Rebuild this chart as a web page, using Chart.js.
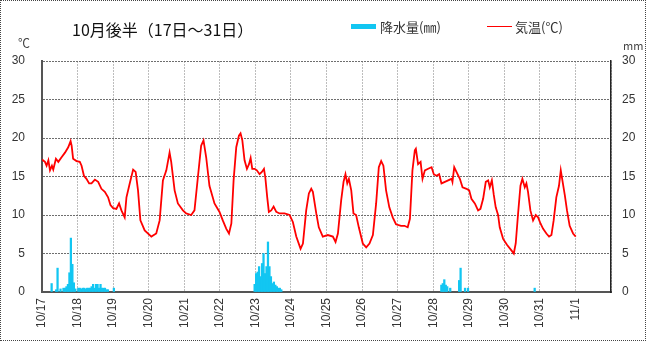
<!DOCTYPE html>
<html lang="ja">
<head>
<meta charset="utf-8">
<script src="https://cdn.jsdelivr.net/npm/chart.js@4.4.1/dist/chart.umd.min.js"></script>
<style>
  body { margin: 0; background: #fff; }
  #wrap { position: relative; width: 646px; height: 341px; font-family: "Noto Sans CJK JP", sans-serif; color: #222; }
  #frame { position: absolute; left: 0; top: 0; width: 644px; height: 339px; border: 1px dotted #444; pointer-events: none; }
  canvas { position: absolute; left: 0; top: 0; }
  .txt { position: absolute; white-space: nowrap; line-height: 1; }
  #title { left: 72px; top: 21px; font-size: 16px; color: #111; }
  .leg { top: 20px; font-size: 13px; color: #333; }
  #legRain { left: 351px; top: 24px; width: 25px; height: 5px; background: #12c6f2; position: absolute; }
  #legTemp { left: 487px; top: 26px; width: 25px; height: 1px; background: #f00; position: absolute; }
  .unit { font-size: 11px; color: #444; }
</style>
</head>
<body>
<div id="wrap">
  <canvas id="weatherChart" width="646" height="341"></canvas>
  <div class="txt" id="title">10月後半（17日～31日）</div>
  <div id="legRain"></div>
  <div class="txt leg" style="left:380px">降水量(㎜)</div>
  <div id="legTemp"></div>
  <div class="txt leg" style="left:515px">気温(℃)</div>
  <div class="txt unit" style="left:18px; top:37px; font-size:12px">℃</div>
  <div class="txt unit" style="left:623px; top:40px">mm</div>
  <div id="frame"></div>
</div>
<script>
// day labels, one per 24h tick
const dateLabels = ['10/17', '10/18', '10/19', '10/20', '10/21', '10/22', '10/23', '10/24',
  '10/25', '10/26', '10/27', '10/28', '10/29', '10/30', '10/31', '11/1'];

// temperature (hours since 10/17 0:00, ℃)
const tempHours = [0, 2, 3.1, 4.3, 5.4, 6.7, 7.6, 9.4, 11, 13.2, 15.5, 17.7, 19.3, 20, 21, 23.3,
  25.5, 26.7, 28.3, 30, 31.8, 33.4, 35.7, 37.9, 40.1, 42.4, 44.6, 46.2, 48, 50.2, 52, 53.6,
  55.8, 57, 59.2, 61.5, 63.2, 64.8, 66.4, 69.3, 73.8, 77.1, 79.4, 81.6, 83.9, 86.1, 87.2, 89.5,
  91.7, 95.1, 97.3, 100.7, 102.9, 105.2, 107.4, 109, 110.8, 113, 116.4, 119.8, 122, 124.4, 126.2,
  127.8, 129.3, 131.1, 132.9, 134, 135.2, 136.7, 138.3, 139.7, 140.8, 141.9, 143.5, 145, 146.8,
  148.4, 149.8, 150.7, 152, 153.1, 154.7, 156.3, 158.1, 160.3, 163.7, 167.1, 169.3, 171.6, 174.5,
  176.1, 178.3, 180.1, 181.7, 182.8, 185.1, 186.8, 189.5, 192.9, 196.3, 198.1, 199.7, 201.9,
  203.5, 204.8, 206, 207.1, 208.7, 210.2, 212, 213.8, 216.5, 218.8, 221, 223.3, 225.5, 227.3,
  228.9, 230.4, 232.2, 234.4, 236.7, 238.9, 242.3, 244.6, 246.8, 248.3, 250, 251.6, 252.3, 253.8,
  255.5, 256.8, 258.4, 260.6, 262.9, 264.4, 266.2, 268, 269.6, 271.9, 274.1, 276.4, 277, 278.2,
  279.7, 282, 283.8, 286.5, 288.3, 289.8, 292.1, 294.3, 295.9, 297.7, 299.5, 301.1, 302.2, 303.6,
  304.9, 306.2, 307.8, 308.9, 311.2, 313.9, 316.8, 318.4, 319.7, 321.3, 322.9, 324.2, 325.8,
  326.9, 328, 329.6, 331.4, 333.2, 334.8, 336.4, 338.2, 340.4, 342.2, 343.8, 345.3, 347.1, 348.9,
  350.1, 351.2, 352.8, 354.3, 356.1, 358.4, 360.2];
const tempValues = [17.2, 16.9, 16.4, 17.1, 15.8, 16.4, 15.9, 17.3, 16.9, 17.5, 18.1, 18.8, 19.6, 19.0, 17.3, 17.0,
  16.9, 16.4, 15.1, 14.7, 14.1, 14.1, 14.6, 14.3, 13.4, 13.0, 12.3, 11.3, 10.9, 10.8, 11.5, 10.6,
  9.7, 12.3, 14.1, 15.9, 15.6, 13.2, 9.3, 8.0, 7.2, 7.6, 9.3, 14.5, 15.8, 18.1, 16.9, 13.2,
  11.5, 10.6, 10.2, 10.0, 10.6, 14.9, 19.0, 19.7, 17.5, 13.8, 11.5, 10.4, 9.3, 8.2, 7.6,
  8.9, 14.5, 18.8, 20.3, 20.6, 19.7, 17.1, 16.0, 16.6, 17.4, 16.0, 16.0, 15.8, 15.3,
  15.6, 16.0, 14.9, 12.3, 10.4, 10.6, 11.1, 10.4, 10.2, 10.2, 10.0, 9.1, 7.2, 5.6,
  6.3, 10.6, 12.8, 13.4, 13.0, 10.2, 8.4, 7.2, 7.4, 7.2, 6.5, 7.6, 11.9,
  14.3, 15.3, 14.1, 14.7, 13.2, 10.2, 10.0, 8.4, 6.3, 5.8, 6.3, 7.4, 11.5, 16.2,
  17.0, 16.4, 13.2, 11.0, 9.7, 8.8, 8.6, 8.6, 8.4, 9.5, 15.8, 18.4, 18.6, 16.6,
  16.9, 14.7, 15.8, 16.0, 16.2, 15.3, 15.1, 15.3, 14.1, 14.3, 14.5, 14.7, 14.3, 16.2,
  15.6, 14.7, 13.6, 13.4, 13.2, 12.1, 11.5, 10.6, 10.8, 12.1, 14.3, 14.5, 13.6, 14.5,
  12.6, 11.0, 10.0, 8.4, 6.9, 6.1, 5.4, 5.0, 6.3, 10.2, 13.8, 14.7, 13.6,
  14.1, 13.0, 10.6, 9.3, 10.0, 9.7, 8.9, 8.2, 7.6, 7.2, 7.4, 9.3, 12.3, 13.8,
  15.8, 14.5, 12.6, 10.6, 8.6, 7.6, 7.2];

// hourly precipitation (hours since 10/17 0:00, mm) - rain hours only
const rainHours = [6, 9, 10, 12, 14, 15, 16, 17, 18, 19, 20, 21, 22,
  24, 25, 26, 27, 28, 29, 30, 31, 32, 33, 34, 35, 36, 37, 38, 39, 40, 41, 42, 43, 44, 48,
  143, 144, 145, 146, 147, 148, 149, 150, 151, 152, 153, 154, 155, 156, 157, 158, 159, 160, 161,
  269, 270, 271, 272, 273, 275, 281, 282, 285, 287, 332];
const rainValues = [1.1, 0.3, 3.1, 0.4, 0.5, 0.5, 0.7, 1.0, 2.5, 7.0, 3.6, 1.2, 0.4,
  0.5, 0.5, 0.4, 0.5, 0.5, 0.4, 0.5, 0.5, 0.5, 0.7, 1.0, 0.5, 1.0, 1.0, 0.5, 1.0, 0.5, 0.5, 0.5, 0.3, 0.3, 0.5,
  1.0, 2.4, 2.6, 3.3, 2.0, 3.7, 5.0, 2.4, 3.3, 6.5, 3.3, 2.0, 1.1, 1.3, 0.9, 0.7, 0.5, 0.5, 0.3,
  0.9, 1.1, 1.6, 0.9, 0.7, 0.5, 1.5, 3.1, 0.5, 0.5, 0.5];

const tickFont = { family: '"Liberation Sans", Arial, sans-serif', size: 12 };

const tempData = tempHours.map((h, i) => ({ x: h, y: tempValues[i] }));
const rainData = rainHours.map((h, i) => ({ x: h + 0.5, y: rainValues[i] }));

const ctx = document.getElementById('weatherChart').getContext('2d');
new Chart(ctx, {
  data: {
    datasets: [{
      type: 'line',
      label: '気温(℃)',
      data: tempData,
      yAxisID: 'y',
      borderColor: '#ff0000',
      borderWidth: 1.8,
      pointRadius: 0,
      tension: 0,
      order: 1
    }, {
      type: 'bar',
      label: '降水量(㎜)',
      data: rainData,
      yAxisID: 'y2',
      backgroundColor: '#12c6f2',
      barThickness: 1.6,
      order: 2
    }]
  },
  options: {
    responsive: false,
    animation: false,
    devicePixelRatio: 1,
    layout: { padding: { top: 61, left: 0, right: 0, bottom: 0 } },
    plugins: { legend: { display: false }, tooltip: { enabled: false } },
    scales: {
      x: {
        type: 'linear',
        position: 'bottom',
        min: 0,
        max: 384,
        offset: false,
        afterFit: (s) => { s.height = 49; },
        ticks: {
          stepSize: 24,
          autoSkip: false,
          minRotation: 90,
          maxRotation: 90,
          padding: 6,
          color: '#333',
          font: tickFont,
          callback: (v) => dateLabels[v / 24] || ''
        },
        grid: { offset: false, color: '#bdbdbd', lineWidth: 1, drawTicks: false },
        border: { color: '#555', width: 2, dash: [2, 1] }
      },
      y: {
        position: 'left',
        min: 0,
        max: 30,
        afterFit: (s) => { s.width = 42; },
        ticks: { stepSize: 5, padding: 17, color: '#333', font: tickFont },
        grid: { color: '#6e6e6e', lineWidth: 1, drawTicks: false },
        border: { color: '#555', width: 2, dash: [2, 1] }
      },
      y2: {
        position: 'right',
        min: 0,
        max: 30,
        afterFit: (s) => { s.width = 35; },
        ticks: { stepSize: 5, padding: 11, color: '#333', font: tickFont },
        grid: { drawOnChartArea: false, drawTicks: false },
        border: { color: '#222', width: 1.5 }
      }
    }
  }
});
</script>
</body>
</html>
